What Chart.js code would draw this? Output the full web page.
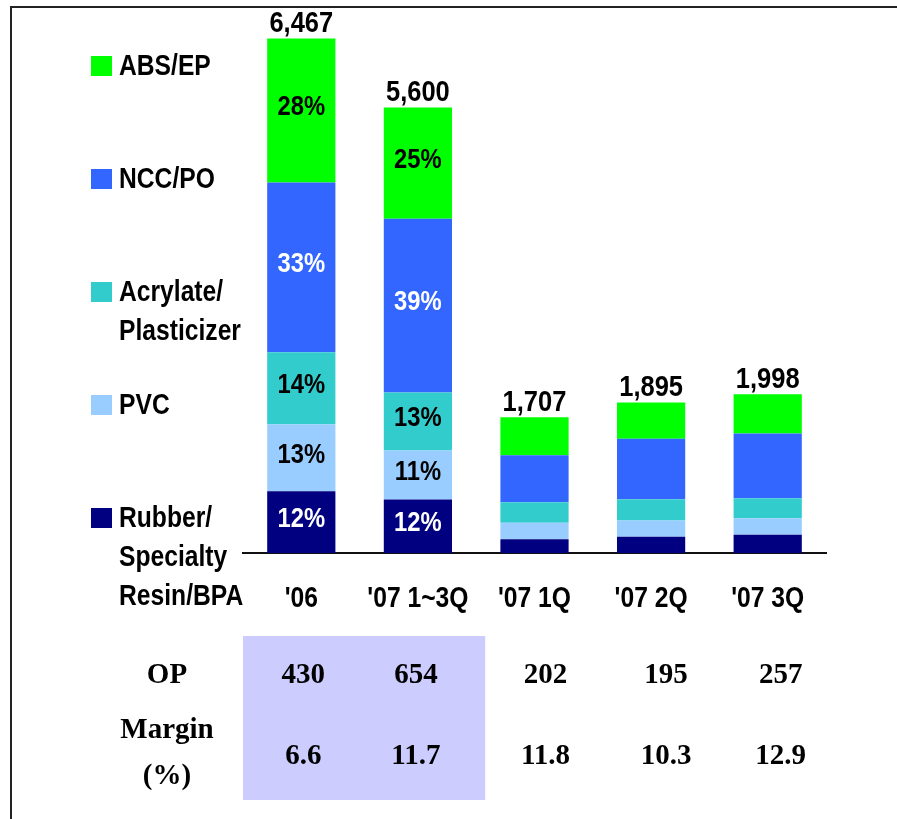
<!DOCTYPE html>
<html lang="en">
<head>
    <meta charset="UTF-8">
    <title>Sales by Business</title>
    <style>
        html, body {
            margin: 0;
            padding: 0;
            background: #fff;
        }
        #salesChart {
            display: block;
        }
    </style>
    <script src="https://cdn.jsdelivr.net/npm/chart.js"></script>
</head>
<body>
    <canvas id="salesChart" width="897" height="819"></canvas>

    <script>
        // periods and total sales per period
        const periods = ["'06", "'07 1~3Q", "'07 1Q", "'07 2Q", "'07 3Q"];
        const totals = [6467, 5600, 1707, 1895, 1998];

        // share of each business in every period (%), bottom of the stack first
        const rubberShare   = [12, 12, 10.1, 10.8, 11.5];
        const pvcShare      = [13, 11, 12.2, 10.8, 10.3];
        const acrylateShare = [14, 13, 15.1, 14.0, 12.7];
        const nccShare      = [33, 39, 34.5, 40.1, 40.6];
        const absShare      = [28, 25, 28.1, 24.2, 24.8];

        // only the yearly bars carry % labels
        const shareLabelled = [true, true, false, false, false];

        // operating profit table under the chart
        const opValues = ['430', '654', '202', '195', '257'];
        const marginValues = ['6.6', '11.7', '11.8', '10.3', '12.9'];

        const sansFont = '"Liberation Sans", Arial, sans-serif';
        const serifFont = '"Liberation Serif", "Times New Roman", serif';
        const narrow = 0.85; // horizontal squeeze for the condensed sans text

        const series = [
            { name: ['Rubber/', 'Specialty', 'Resin/BPA'], share: rubberShare,   color: '#000080', text: '#fff' },
            { name: ['PVC'],                                share: pvcShare,      color: '#99CCFF', text: '#000' },
            { name: ['Acrylate/', 'Plasticizer'],           share: acrylateShare, color: '#33CCCC', text: '#000' },
            { name: ['NCC/PO'],                             share: nccShare,      color: '#3366FF', text: '#fff' },
            { name: ['ABS/EP'],                             share: absShare,      color: '#00FF00', text: '#000' }
        ];

        // small column nudges for the table text
        const tableShift = [2, -2, 11, 15, 13];

        const datasets = series.map(s => ({
            label: s.name.join(' '),
            data: s.share.map((p, i) => totals[i] * p / 100),
            backgroundColor: s.color,
            borderWidth: 0,
            barPercentage: 0.585,
            categoryPercentage: 1.0
        }));

        function narrowText(ctx, text, x, y) {
            ctx.save();
            ctx.translate(x, y);
            ctx.scale(narrow, 1);
            ctx.fillText(text, 0, 0);
            ctx.restore();
        }

        const decorations = {
            id: 'decorations',
            beforeDraw(chart) {
                const ctx = chart.ctx;
                ctx.save();
                ctx.fillStyle = '#fff';
                ctx.fillRect(0, 0, chart.width, chart.height);
                // frame on top and left
                ctx.strokeStyle = '#222';
                ctx.lineWidth = 2;
                ctx.beginPath();
                ctx.moveTo(11, chart.height);
                ctx.lineTo(11, 7);
                ctx.lineTo(chart.width, 7);
                ctx.stroke();

                // shaded yearly columns of the table
                const x = chart.scales.x;
                const half = (x.getPixelForValue(1) - x.getPixelForValue(0)) / 2;
                ctx.fillStyle = '#CCCCFF';
                const left = x.getPixelForValue(0) - half;
                const right = x.getPixelForValue(1) + half + 9;
                ctx.fillRect(left, 636, right - left, 164);
                ctx.restore();
            },
            afterDatasetsDraw(chart) {
                const ctx = chart.ctx;
                const x = chart.scales.x;
                ctx.save();
                ctx.textAlign = 'center';

                // % labels inside the segments
                ctx.textBaseline = 'middle';
                ctx.font = 'bold 28px ' + sansFont;
                series.forEach((s, d) => {
                    chart.getDatasetMeta(d).data.forEach((bar, i) => {
                        if (!shareLabelled[i]) return;
                        ctx.fillStyle = s.text;
                        narrowText(ctx, Math.round(s.share[i]) + '%', bar.x, (bar.y + bar.base) / 2 - 3);
                    });
                });

                // totals above the stacks
                ctx.textBaseline = 'alphabetic';
                ctx.font = 'bold 30px ' + sansFont;
                ctx.fillStyle = '#000';
                const top = chart.getDatasetMeta(series.length - 1).data;
                top.forEach((bar, i) => {
                    narrowText(ctx, totals[i].toLocaleString('en-US'), bar.x, bar.y - 6);
                });

                // period labels under the axis
                ctx.textBaseline = 'middle';
                ctx.font = 'bold 29px ' + sansFont;
                periods.forEach((p, i) => {
                    narrowText(ctx, p, x.getPixelForValue(i), 599);
                });

                // legend on the left, top item first
                ctx.textAlign = 'left';
                series.slice().reverse().forEach((s, k) => {
                    const y = 56 + k * 113;
                    ctx.fillStyle = s.color;
                    ctx.fillRect(91, y, 21, 20);
                    ctx.fillStyle = '#000';
                    s.name.forEach((line, j) => {
                        narrowText(ctx, line, 119, y + 11 + j * 39);
                    });
                });

                // OP / margin table
                ctx.textAlign = 'center';
                ctx.textBaseline = 'alphabetic';
                ctx.font = 'bold 29px ' + serifFont;
                ctx.fillText('OP', 167, 683);
                ctx.fillText('Margin', 167, 738);
                ctx.fillText('(%)', 167, 784);
                periods.forEach((p, i) => {
                    const cx = x.getPixelForValue(i) + tableShift[i];
                    ctx.fillText(opValues[i], cx, 683);
                    ctx.fillText(marginValues[i], cx, 764);
                });
                ctx.restore();
            }
        };

        new Chart(document.getElementById('salesChart'), {
            type: 'bar',
            data: {
                labels: periods,
                datasets: datasets
            },
            options: {
                responsive: false,
                animation: false,
                layout: {
                    padding: { left: 243, right: 71, top: 12, bottom: 266 }
                },
                plugins: {
                    legend: { display: false },
                    tooltip: { enabled: false }
                },
                scales: {
                    x: {
                        stacked: true,
                        grid: { display: false, drawTicks: false },
                        border: { display: true, color: '#111', width: 2 },
                        ticks: { display: false }
                    },
                    y: {
                        stacked: true,
                        display: false,
                        min: 0,
                        max: 6800
                    }
                }
            },
            plugins: [decorations]
        });
    </script>
</body>
</html>
